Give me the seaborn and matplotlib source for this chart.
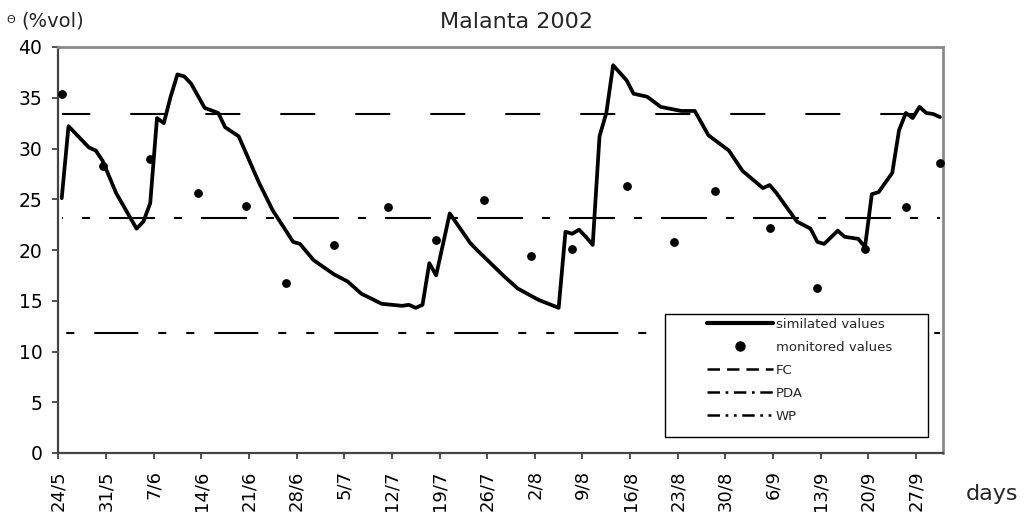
import numpy as np
import pandas as pd
import matplotlib
matplotlib.use("Agg")
import matplotlib.pyplot as plt
from matplotlib.lines import Line2D
from matplotlib.patches import Rectangle
import seaborn as sns

# ---------------- data ----------------
title = "Malanta 2002"
tick_labels = ["24/5", "31/5", "7/6", "14/6", "21/6", "28/6", "5/7", "12/7", "19/7",
               "26/7", "2/8", "9/8", "16/8", "23/8", "30/8", "6/9", "13/9", "20/9", "27/9"]

# simulated values (day index from 24/5, value %vol) - vertices
sim_day = [0, 1, 4, 5, 6, 8, 11, 12, 13, 14, 15, 16, 17, 18, 19, 21, 23, 24, 26,
           29, 31, 34, 35, 37, 40, 42, 44, 47, 50, 51, 52, 53, 54, 55, 57,
           60, 61, 65, 67, 70, 73, 74, 75, 76, 77, 78, 79, 80, 81, 83, 84, 86,
           88, 91, 93, 95, 98, 100, 103, 104, 105, 108, 110, 111, 112, 114, 115,
           117, 118, 119, 120, 122, 123, 124, 125, 126, 127, 128, 129]
sim_val = [25.1, 32.2, 30.1, 29.8, 28.8, 25.6, 22.1, 22.8, 24.6, 33.0, 32.5, 35.1, 37.3, 37.1, 36.4, 34.0, 33.5, 32.1, 31.2,
           26.6, 23.9, 20.8, 20.6, 19.0, 17.6, 16.9, 15.7, 14.7, 14.5, 14.6, 14.3, 14.6, 18.7, 17.5, 23.6,
           20.7, 20.0, 17.4, 16.2, 15.1, 14.3, 21.8, 21.6, 22.0, 21.3, 20.5, 31.2, 33.5, 38.2, 36.7, 35.4, 35.1,
           34.1, 33.7, 33.7, 31.3, 29.8, 27.8, 26.1, 26.4, 25.6, 22.8, 22.1, 20.8, 20.6, 21.9, 21.3,
           21.1, 20.3, 25.5, 25.7, 27.6, 31.8, 33.5, 33.0, 34.1, 33.5, 33.4, 33.1]

# monitored values
obs_day = [0, 6, 13, 20, 27, 33, 40, 48, 55, 62, 69, 75, 83, 90, 96, 104, 111, 118, 124, 129]
obs_val = [35.4, 28.3, 29.0, 25.6, 24.3, 16.7, 20.5, 24.2, 21.0, 24.9, 19.4, 20.1, 26.3,
           20.8, 25.8, 22.2, 16.3, 20.1, 24.2, 28.6]

FC = 33.4
PDA = 23.2
WP = 11.8
first_day, last_day = 0, 129

legend_labels = ["similated values", "monitored values", "FC", "PDA", "WP"]

# ---------------- plot ----------------
sns.set_style("ticks")
plt.rcParams["font.family"] = ["DejaVu Sans"]
plt.rcParams["lines.scale_dashes"] = False

W, H = 1024, 515
fig = plt.figure(figsize=(W / 100, H / 100), dpi=100)
ax = fig.add_axes([58.3 / W, 1 - 453 / H, (943.3 - 58.3) / W, (453 - 47) / H])

px = 0.72  # points per pixel
fc_ls = (6.7 * px, (35 * px, 40 * px))
pda_ls = (45 * px, (46 * px, 19 * px, 8 * px, 19 * px))
wp_ls = (87.7 * px, (44 * px, 20 * px, 8 * px, 20 * px, 8 * px, 20 * px))

ax.plot([first_day, last_day], [FC, FC], color="black", lw=1.5, linestyle=fc_ls, zorder=2)
ax.plot([first_day, last_day], [PDA, PDA], color="black", lw=1.5, linestyle=pda_ls, zorder=2)
ax.plot([first_day, last_day], [WP, WP], color="black", lw=1.5, linestyle=wp_ls, zorder=2)

sim_df = pd.DataFrame({"day": sim_day, "theta": sim_val})
obs_df = pd.DataFrame({"day": obs_day, "theta": obs_val})
sns.lineplot(data=sim_df, x="day", y="theta", ax=ax, color="black", lw=2.7, zorder=3,
             estimator=None, sort=False, solid_joinstyle="round")
sns.scatterplot(data=obs_df, x="day", y="theta", ax=ax, color="black", s=40,
                edgecolor="black", linewidth=0, zorder=4, clip_on=False)

ax.set_xlim(-0.5, 129.5)
ax.set_ylim(0, 40)
ax.set_xticks(np.arange(len(tick_labels)) * 7 - 0.5)
ax.set_xticklabels(tick_labels, rotation=90, fontsize=13)
ax.set_yticks(np.arange(0, 41, 5))
ax.set_yticklabels([str(v) for v in range(0, 41, 5)], fontsize=13.5)
ax.set_xlabel("")
ax.set_ylabel("")
ax.tick_params(axis="both", direction="out", length=4.5, width=1.2, colors="#333333",
               labelcolor="black")
ax.tick_params(axis="x", pad=8)
ax.tick_params(axis="y", pad=7)

for s in ["left", "bottom"]:
    ax.spines[s].set_color("#444444")
    ax.spines[s].set_linewidth(1.6)
for s in ["top", "right"]:
    ax.spines[s].set_visible(True)
    ax.spines[s].set_color("#8a8a8a")
    ax.spines[s].set_linewidth(2.0)

# texts
fig.text(517 / W, 1 - 22 / H, title, ha="center", va="center", fontsize=16)
fig.text(11 / W, 1 - 20 / H, "Θ", ha="center", va="center", fontsize=8)
fig.text(21 / W, 1 - 21 / H, "(%vol)", ha="left", va="center", fontsize=14)
fig.text(992 / W, 1 - 494 / H, "days", ha="center", va="center", fontsize=16)

# legend box
rect = Rectangle((665 / W, 1 - 437 / H), (928 - 665) / W, (437 - 314) / H,
                 transform=fig.transFigure, facecolor="white", edgecolor="black",
                 linewidth=1.0, zorder=5, clip_on=False)
ax.add_patch(rect)

handles = [
    Line2D([], [], color="black", lw=3),
    Line2D([], [], color="black", marker="o", linestyle="none", markersize=6.5),
    Line2D([], [], color="black", lw=1.8, linestyle=(0, (9, 5))),
    Line2D([], [], color="black", lw=1.8, linestyle=(0, (9, 4, 2, 4))),
    Line2D([], [], color="black", lw=1.8, linestyle=(0, (9, 4, 2, 4, 2, 4))),
]
leg = ax.legend(handles, legend_labels, loc="upper left",
                bbox_to_anchor=(707 / W, 1 - 318 / H), bbox_transform=fig.transFigure,
                frameon=False, fontsize=9.5, handlelength=5.0, handletextpad=0.2,
                labelspacing=0.75, borderpad=0, borderaxespad=0)
leg.set_zorder(6)

fig.savefig("out.png", dpi=100)
